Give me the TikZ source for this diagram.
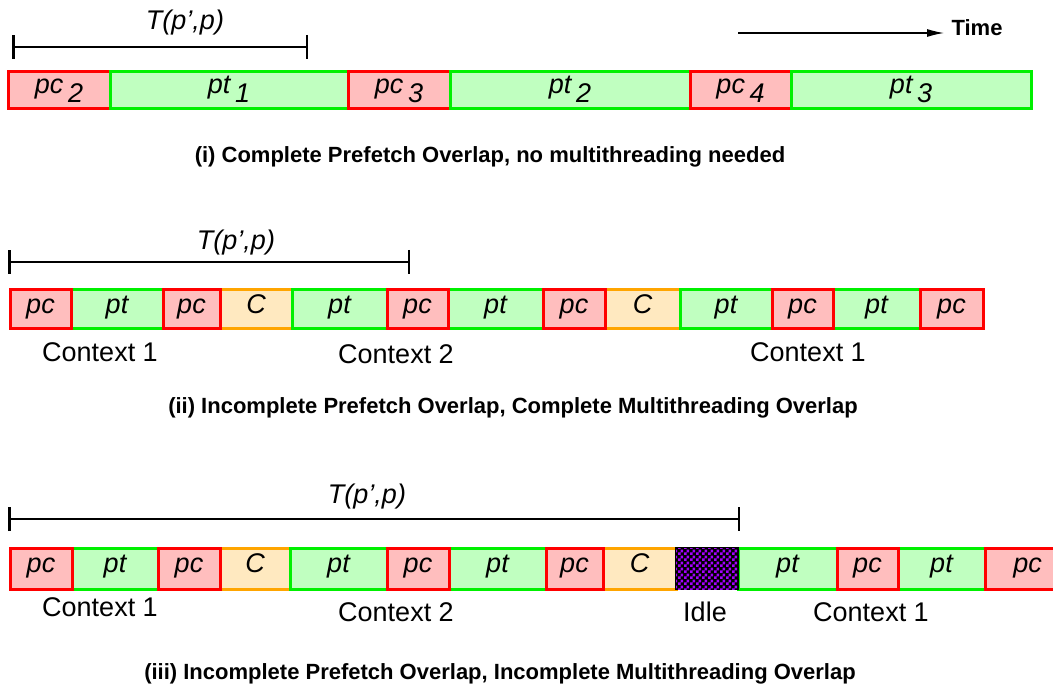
\documentclass[tikz,border=0pt]{standalone}
\usepackage{fontspec}
\setmainfont{Liberation Sans}
\usetikzlibrary{patterns,arrows.meta}
\definecolor{pcfill}{RGB}{255,190,190}
\definecolor{ptfill}{RGB}{192,255,192}
\definecolor{ctxfill}{RGB}{255,233,192}
\definecolor{ptline}{RGB}{0,240,0}
\definecolor{ctxline}{RGB}{255,165,0}
\definecolor{idlepurple}{RGB}{165,0,255}
\pgfdeclarepatternformonly{finecheck}{\pgfpointorigin}{\pgfqpoint{6pt}{6pt}}{\pgfqpoint{6pt}{6pt}}%
{%
    \pgfpathrectangle{\pgfpointorigin}{\pgfqpoint{3pt}{3pt}}%
    \pgfpathrectangle{\pgfqpoint{3pt}{3pt}}{\pgfqpoint{3pt}{3pt}}%
    \pgfusepath{fill}%
}
\newcommand{\subnum}[1]{\,\raisebox{-0.3em}{#1}}
\tikzset{%
    slot/.style={draw, line width=3pt, inner sep=0pt,
        text height=14pt, text depth=7pt,
        font=\fontsize{27}{27}\selectfont\itshape},
    pcbox/.style={slot, draw=red, fill=pcfill},
    ptbox/.style={slot, draw=ptline, fill=ptfill},
    ctxbox/.style={slot, draw=ctxline, fill=ctxfill},
    idlebox/.style={slot, draw=black, line width=2pt, fill=black,
        postaction={pattern=finecheck, pattern color=idlepurple}},
    span/.style={line width=2.5pt, {Bar[width=24pt]}-{Bar[width=24pt]}},
    spanlabel/.style={font=\fontsize{27}{27}\selectfont\itshape},
    ctxlabel/.style={font=\fontsize{27}{27}\selectfont},
    caption/.style={font=\fontsize{22}{22}\selectfont\bfseries}
}

\begin{document}
\begin{tikzpicture}[x=1pt, y=-1pt]
    \useasboundingbox (0,0) rectangle (1053,687);

    % (i)
    \coordinate (s1a) at (12,47);
    \coordinate (s1b) at (308,47);
    \draw[span] (s1a) -- (s1b);
    \node[spanlabel] (t1) at (185,23) {T(p’,p)};
    \coordinate (time0) at (738,33);
    \coordinate (time1) at (944,33);
    \draw[line width=1.2pt, -{Latex[length=17pt,width=8pt]}] (time0) -- (time1);
    \node[font=\fontsize{22}{22}\selectfont\bfseries] (time) at (977,28) {Time};
    \foreach \a/\b/\s/\t [count=\i] in {8/110/pcbox/pc\subnum{2},
        110/348/ptbox/pt\subnum{1}, 348/450/pcbox/pc\subnum{3},
        450/690/ptbox/pt\subnum{2}, 690/791/pcbox/pc\subnum{4},
        791/1031/ptbox/pt\subnum{3}}
    {
    \node[\s, minimum width={\b-\a}, minimum height=37] (r1-\i) at ({(\a+\b)/2},90.5) {\t};
    }
    \node[caption] (cap1) at (490,157) {(i) Complete Prefetch Overlap, no multithreading needed};

    % (ii)
    \coordinate (s2a) at (8,262);
    \coordinate (s2b) at (410,262);
    \draw[span] (s2a) -- (s2b);
    \node[spanlabel] (t2) at (236,243) {T(p’,p)};
    \foreach \a/\b/\s/\t [count=\i] in {71/163/ptbox/pt, 220/292/ctxbox/C,
        292/387/ptbox/pt, 448/543/ptbox/pt, 605/680/ctxbox/C,
        680/772/ptbox/pt, 833/920/ptbox/pt}
    {
    \node[\s, minimum width={\b-\a}, minimum height=39] (r2-\i) at ({(\a+\b)/2},309.5) {\t};
    }
    \foreach \a/\b [count=\i] in {10/71, 163/220, 387/448, 543/605, 772/833, 920/983}
    {
    \node[pcbox, minimum width={\b-\a}, minimum height=39] (r2pc-\i) at ({(\a+\b)/2},309.5) {pc};
    }
    \node[ctxlabel] (c21) at (100,352) {Context 1};
    \node[ctxlabel] (c22) at (396,354) {Context 2};
    \node[ctxlabel] (c23) at (808,352) {Context 1};
    \node[caption] (cap2) at (513,408) {(ii) Incomplete Prefetch Overlap, Complete Multithreading Overlap};

    % (iii)
    \coordinate (s3a) at (8,519);
    \coordinate (s3b) at (740,519);
    \draw[span] (s3a) -- (s3b);
    \node[spanlabel] (t3) at (367,497) {T(p’,p)};
    \foreach \a/\b/\s/\t [count=\i] in {72/158/ptbox/pt, 220/290/ctxbox/C,
        290/387/ptbox/pt, 449/546/ptbox/pt, 603/676/ctxbox/C,
        738/837/ptbox/pt, 898/985/ptbox/pt}
    {
    \node[\s, minimum width={\b-\a}, minimum height=41] (r3-\i) at ({(\a+\b)/2},568.5) {\t};
    }
    \foreach \a/\b [count=\i] in {10/72, 158/220, 387/449, 546/603, 837/898, 985/1070}
    {
    \node[pcbox, minimum width={\b-\a}, minimum height=41] (r3pc-\i) at ({(\a+\b)/2},568.5) {pc};
    }
    \node[idlebox, minimum width=62, minimum height=41] (idle) at (707,568.5) {};
    \node[ctxlabel] (c31) at (100,607) {Context 1};
    \node[ctxlabel] (c32) at (396,612) {Context 2};
    \node[ctxlabel] (c33) at (705,612) {Idle};
    \node[ctxlabel] (c34) at (871,612) {Context 1};
    \node[caption] (cap3) at (500,674) {(iii) Incomplete Prefetch Overlap, Incomplete Multithreading Overlap};
\end{tikzpicture}
\end{document}
